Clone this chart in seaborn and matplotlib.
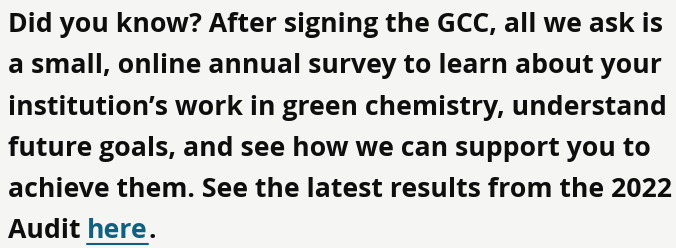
import matplotlib
matplotlib.use("Agg")
import matplotlib.pyplot as plt
import seaborn as sns

# text content
lines = [
    "Did you know? After signing the GCC, all we ask is",
    "a small, online annual survey to learn about your",
    "institution\u2019s work in green chemistry, understand",
    "future goals, and see how we can support you to",
    "achieve them. See the latest results from the 2022",
]
last_line = ["Audit ", "here", "."]
link_word = "here"

bg = "#f5f5f4"
ink = "#0e0e0e"
link = "#12607f"

sns.set_theme(style="white", rc={"figure.facecolor": bg, "axes.facecolor": bg})
plt.rcParams["font.family"] = ["Open Sans", "DejaVu Sans"]

W, H = 676, 248
fig = plt.figure(figsize=(W / 100, H / 100), dpi=100)
fig.patch.set_facecolor(bg)

fs = 19.2
x0 = 8
base0 = 32
step = 41.3

for i, s in enumerate(lines):
    y = base0 + i * step
    fig.text(x0 / W, 1 - y / H, s, fontsize=fs, fontweight="bold", color=ink,
             va="baseline", ha="left")

renderer = fig.canvas.get_renderer()
y = base0 + len(lines) * step
x = x0
for part in last_line:
    col = link if part == link_word else ink
    t = fig.text(x / W, 1 - y / H, part, fontsize=fs, fontweight="bold", color=col,
                 va="baseline", ha="left")
    bb = t.get_window_extent(renderer)
    if part == link_word:
        uy = y + 5
        fig.add_artist(plt.Line2D([bb.x0 / W, bb.x1 / W], [1 - uy / H, 1 - uy / H],
                                  color=link, lw=1.5))
    x = bb.x1

fig.savefig("out.png", dpi=100, facecolor=bg)
